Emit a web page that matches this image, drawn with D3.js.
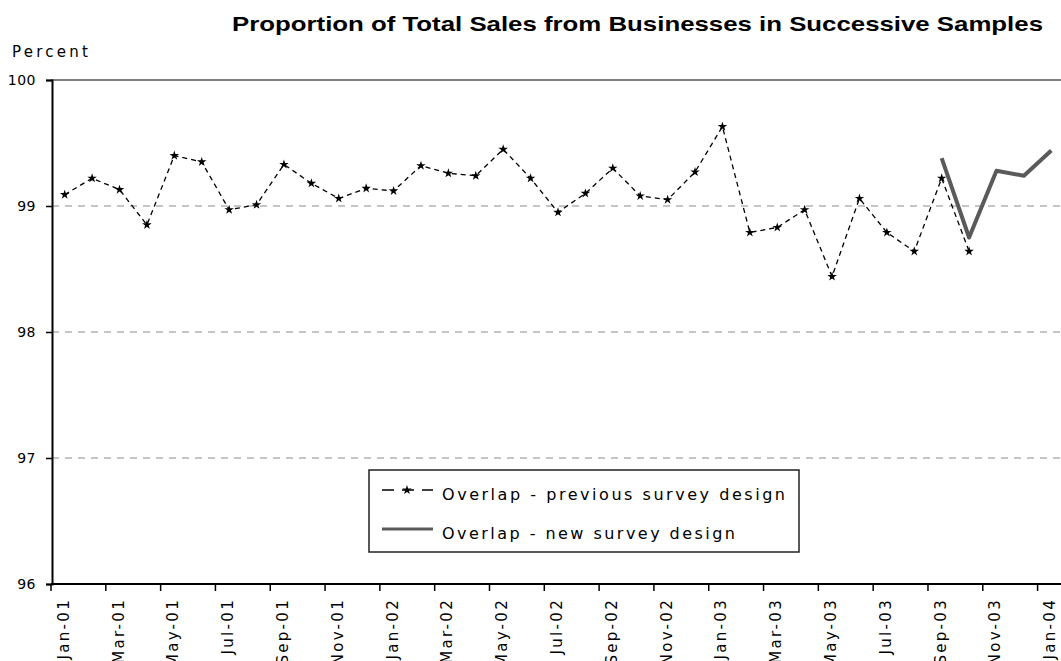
<!DOCTYPE html>
<html><head><meta charset="utf-8">
<script src="https://cdn.jsdelivr.net/npm/d3@7"></script>
<style>body{margin:0;background:#fff;overflow:hidden}</style>
</head><body>
<svg id="c" width="1061" height="661"></svg>
<script>
const months = ["Jan-01","Feb-01","Mar-01","Apr-01","May-01","Jun-01","Jul-01","Aug-01","Sep-01","Oct-01","Nov-01","Dec-01",
"Jan-02","Feb-02","Mar-02","Apr-02","May-02","Jun-02","Jul-02","Aug-02","Sep-02","Oct-02","Nov-02","Dec-02",
"Jan-03","Feb-03","Mar-03","Apr-03","May-03","Jun-03","Jul-03","Aug-03","Sep-03","Oct-03","Nov-03","Dec-03","Jan-04"];
const previousMonths = months.slice(0, 34);
const previousValues = [99.09,99.22,99.13,98.85,99.40,99.35,98.97,99.01,99.33,99.18,99.06,99.14,
99.12,99.32,99.26,99.24,99.45,99.22,98.95,99.10,99.30,99.08,99.05,99.27,
99.63,98.79,98.83,98.97,98.44,99.06,98.79,98.64,99.22,98.64];
const newMonths = ["Sep-03","Oct-03","Nov-03","Dec-03","Jan-04"];
const newValues = [99.38,98.75,99.28,99.24,99.44];
const yTicks = [96,97,98,99,100];
const gridValues = [97,98,99];
const tickMonths = months.filter((m,i)=>i%2===0);
const titleText = "Proportion of Total Sales from Businesses in Successive Samples";
const legendLabels = ["Overlap - previous survey design","Overlap - new survey design"];

const svg = d3.select("#c");
const x = d3.scaleBand().domain(months).range([51, 1065]).padding(0);
const y = d3.scaleLinear().domain([96,100]).range([584, 80]);
const cx = m => x(m) + x.bandwidth()/2;

// title
svg.append("text").attr("x",232).attr("y",31).attr("font-family","Liberation Sans, Arial, sans-serif")
  .attr("font-weight","bold").attr("font-size",21).attr("textLength",811).attr("lengthAdjust","spacingAndGlyphs")
  .attr("fill","#000").text(titleText);
svg.append("text").attr("x",12).attr("y",57).attr("font-family","DejaVu Sans, sans-serif")
  .attr("font-size",15).attr("textLength",76).attr("lengthAdjust","spacing").text("Percent");

// gridlines
svg.append("g").selectAll("line").data(gridValues).join("line")
  .attr("x1",52).attr("x2",1061).attr("y1",d=>y(d)).attr("y2",d=>y(d))
  .attr("stroke","#8c8c8c").attr("stroke-width",1.2).attr("stroke-dasharray","7,6");
// top border
svg.append("line").attr("x1",51).attr("x2",1061).attr("y1",y(100)).attr("y2",y(100))
  .attr("stroke","#555").attr("stroke-width",1.5);

// y axis
const yAxis = svg.append("g").attr("transform","translate(52,0)")
  .call(d3.axisLeft(y).tickValues(yTicks).tickSize(6).tickPadding(10).tickFormat(d3.format("d")));
yAxis.select(".domain").attr("stroke","#000").attr("stroke-width",2);
yAxis.selectAll(".tick line").attr("stroke","#000").attr("stroke-width",1.5);
yAxis.selectAll("text").attr("font-family","DejaVu Sans, sans-serif").attr("font-size",14)
  .attr("letter-spacing","0.5px").attr("fill","#000");

// x axis: ticks at category boundaries every 2 months
const xg = svg.append("g");
xg.append("line").attr("x1",51).attr("x2",1061).attr("y1",584).attr("y2",584).attr("stroke","#000").attr("stroke-width",2);
xg.selectAll("line.t").data(tickMonths).join("line").attr("class","t")
  .attr("x1",d=>x(d)).attr("x2",d=>x(d)).attr("y1",584).attr("y2",591).attr("stroke","#000").attr("stroke-width",1.5);
xg.selectAll("text").data(tickMonths).join("text")
  .attr("transform",d=>`translate(${cx(d)+4},598) rotate(-90)`)
  .attr("text-anchor","end").attr("font-family","DejaVu Sans, sans-serif").attr("font-size",15)
  .attr("letter-spacing","2.3px").attr("fill","#000").text(d=>d);

// previous series
const line = d3.line().x(d=>cx(d[0])).y(d=>y(d[1]));
const prev = previousMonths.map((m,i)=>[m,previousValues[i]]);
svg.append("path").datum(prev).attr("d",line).attr("fill","none").attr("stroke","#000")
  .attr("stroke-width",1.3).attr("stroke-dasharray","5,4");
const star = d3.symbol().type(d3.symbolStar).size(28);
svg.append("g").selectAll("path").data(prev).join("path")
  .attr("transform",d=>`translate(${cx(d[0])},${y(d[1])})`).attr("d",star).attr("fill","#000");

// new series
const nw = newMonths.map((m,i)=>[m,newValues[i]]);
svg.append("path").datum(nw).attr("d",line).attr("fill","none").attr("stroke","#5a5a5a")
  .attr("stroke-width",4).attr("stroke-linejoin","round");

// legend
const lg = svg.append("g");
lg.append("rect").attr("x",369).attr("y",470).attr("width",430).attr("height",82)
  .attr("fill","#fff").attr("stroke","#222").attr("stroke-width",1.5);
lg.append("line").attr("x1",382).attr("x2",433).attr("y1",490).attr("y2",490)
  .attr("stroke","#000").attr("stroke-width",1.3).attr("stroke-dasharray","12,8");
lg.append("path").attr("transform","translate(407,490)").attr("d",star).attr("fill","#000");
lg.append("line").attr("x1",382).attr("x2",433).attr("y1",529).attr("y2",529)
  .attr("stroke","#5a5a5a").attr("stroke-width",3);
lg.selectAll("text").data(legendLabels).join("text")
  .attr("x",442).attr("y",(d,i)=>i===0?500:539)
  .attr("font-family","DejaVu Sans, sans-serif").attr("font-size",16)
  .attr("textLength",(d,i)=>i===0?343:293).attr("lengthAdjust","spacing")
  .attr("fill","#000").text(d=>d);
</script>
</body></html>
